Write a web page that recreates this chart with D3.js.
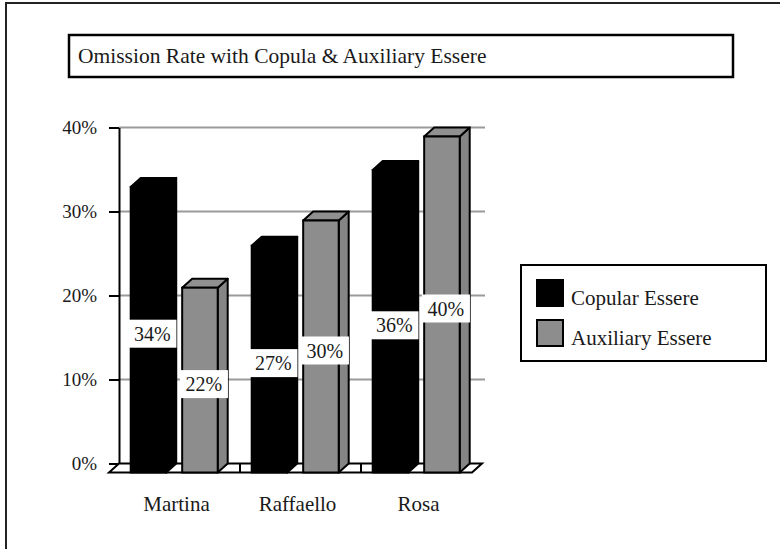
<!DOCTYPE html>
<html>
<head>
<meta charset="utf-8">
<script src="https://cdn.jsdelivr.net/npm/d3@7"></script>
<style>
  html, body { margin: 0; padding: 0; background: #fff; }
  svg { display: block; }
  text { font-family: "Liberation Serif", "Times New Roman", serif; fill: #1a1a1a; }
</style>
</head>
<body>
<svg id="chart" width="780" height="549"></svg>
<script>
// Data
const categories = ["Martina", "Raffaello", "Rosa"];
const seriesNames = ["Copular Essere", "Auxiliary Essere"];
const copularValues = [34, 27, 36];
const auxiliaryValues = [22, 30, 40];
const yTicks = [0, 10, 20, 30, 40];
const chartTitle = "Omission Rate with Copula & Auxiliary Essere";

// Styling / layout
const seriesFill = {
  "Copular Essere": { front: "#000", top: "#000", side: "#000", stroke: "#000" },
  "Auxiliary Essere": { front: "#8d8d8d", top: "#909090", side: "#858585", stroke: "#000" }
};
const depth = { dx: 10, dy: 9 };            // oblique offset of the 3D box
const svg = d3.select("#chart");

// y scale lives on the back wall; the front plane is shifted by depth
const y = d3.scaleLinear().domain([0, 40]).range([463.5, 127.5]);
const x = d3.scaleBand().domain(categories).range([119, 482]);
const xInner = d3.scaleBand().domain(seriesNames).range([21.7, 108.7]).paddingInner(0.31);

const rows = categories.map((c, i) => ({
  category: c,
  values: [
    { series: seriesNames[0], value: copularValues[i] },
    { series: seriesNames[1], value: auxiliaryValues[i] }
  ]
}));

// Outer frame (top and left edges)
svg.append("path")
  .attr("d", "M6,549 V3 H780")
  .attr("fill", "none").attr("stroke", "#222").attr("stroke-width", 2);

// Title box
svg.append("rect").attr("x", 69).attr("y", 35).attr("width", 664).attr("height", 42)
  .attr("fill", "#fff").attr("stroke", "#000").attr("stroke-width", 2.5);
svg.append("text").attr("x", 78).attr("y", 63).attr("font-size", 21.5).text(chartTitle);

// Gridlines on the back wall
const x0 = x.range()[0], x1 = x.range()[1];
svg.append("g").selectAll("line").data(yTicks.filter(d => d > 0)).join("line")
  .attr("x1", x0).attr("x2", x1 + 3)
  .attr("y1", d => y(d)).attr("y2", d => y(d))
  .attr("stroke", "#9a9a9a").attr("stroke-width", 2);

// Floor
const yb = y(0), yf = y(0) + depth.dy;
svg.append("path")
  .attr("d", `M${x0},${yb} H${x1} L${x1 - depth.dx},${yf} H${x0 - depth.dx} Z`)
  .attr("fill", "#fff").attr("stroke", "#000").attr("stroke-width", 2);
svg.append("g").selectAll("line").data(categories.slice(1)).join("line")
  .attr("x1", d => x(d)).attr("x2", d => x(d))
  .attr("y1", yb).attr("y2", yf)
  .attr("stroke", "#000").attr("stroke-width", 2);

// Value axis
const yAxis = d3.axisLeft(y).tickValues(yTicks).tickFormat(d => d + "%")
  .tickSize(10).tickSizeOuter(0).tickPadding(12);
const axisG = svg.append("g").attr("transform", `translate(${x0},0)`).call(yAxis);
axisG.select(".domain").attr("stroke", "#000").attr("stroke-width", 2);
axisG.selectAll(".tick line").attr("stroke", "#000").attr("stroke-width", 2);
axisG.selectAll(".tick text").attr("font-size", 19)
  .attr("font-family", "Liberation Serif, serif").attr("fill", "#1a1a1a");

// 3D columns
const bw = xInner.bandwidth();
const groups = svg.append("g").selectAll("g").data(rows).join("g");
groups.each(function (row) {
  const g = d3.select(this);
  row.values.forEach(v => {
    const xf = x(row.category) - depth.dx + xInner(v.series);
    const yt = y(v.value) + depth.dy;
    const st = seriesFill[v.series];
    const bar = g.append("g");
    // side face
    bar.append("path")
      .attr("d", `M${xf + bw},${yt} L${xf + bw + depth.dx},${yt - depth.dy} V${yf - depth.dy} L${xf + bw},${yf} Z`)
      .attr("fill", st.side).attr("stroke", st.stroke).attr("stroke-width", 2).attr("stroke-linejoin", "round");
    // top face
    bar.append("path")
      .attr("d", `M${xf},${yt} L${xf + depth.dx},${yt - depth.dy} H${xf + bw + depth.dx} L${xf + bw},${yt} Z`)
      .attr("fill", st.top).attr("stroke", st.stroke).attr("stroke-width", 2).attr("stroke-linejoin", "round");
    // front face
    bar.append("rect")
      .attr("x", xf).attr("y", yt).attr("width", bw).attr("height", yf - yt)
      .attr("fill", st.front).attr("stroke", st.stroke).attr("stroke-width", 2);
  });
});

// Data labels on white boxes
const labelG = svg.append("g");
rows.forEach(row => {
  row.values.forEach(v => {
    const xf = x(row.category) - depth.dx + xInner(v.series);
    const yt = y(v.value) + depth.dy;
    const cx = xf + (bw + depth.dx) / 2 - 1;
    const cy = (yt + yf) / 2 + 4;
    labelG.append("rect").attr("x", cx - 24).attr("y", cy - 14).attr("width", 48).attr("height", 28)
      .attr("fill", "#fff");
    labelG.append("text").attr("x", cx).attr("y", cy + 7).attr("text-anchor", "middle")
      .attr("font-size", 20).text(v.value + "%");
  });
});

// Category labels
svg.append("g").selectAll("text").data(categories).join("text")
  .attr("x", d => x(d) + x.bandwidth() / 2 - depth.dx / 2 + 2)
  .attr("y", 511).attr("text-anchor", "middle").attr("font-size", 21)
  .text(d => d);

// Legend
const lg = svg.append("g");
lg.append("rect").attr("x", 521).attr("y", 265).attr("width", 245).attr("height", 96)
  .attr("fill", "#fff").attr("stroke", "#000").attr("stroke-width", 2);
seriesNames.forEach((s, i) => {
  const ty = 280 + i * 40;
  lg.append("rect").attr("x", 537).attr("y", ty).attr("width", 26).attr("height", 26)
    .attr("fill", seriesFill[s].front).attr("stroke", "#000").attr("stroke-width", 2);
  lg.append("text").attr("x", 571).attr("y", ty + 25).attr("font-size", 21).text(s);
});
</script>
</body>
</html>
